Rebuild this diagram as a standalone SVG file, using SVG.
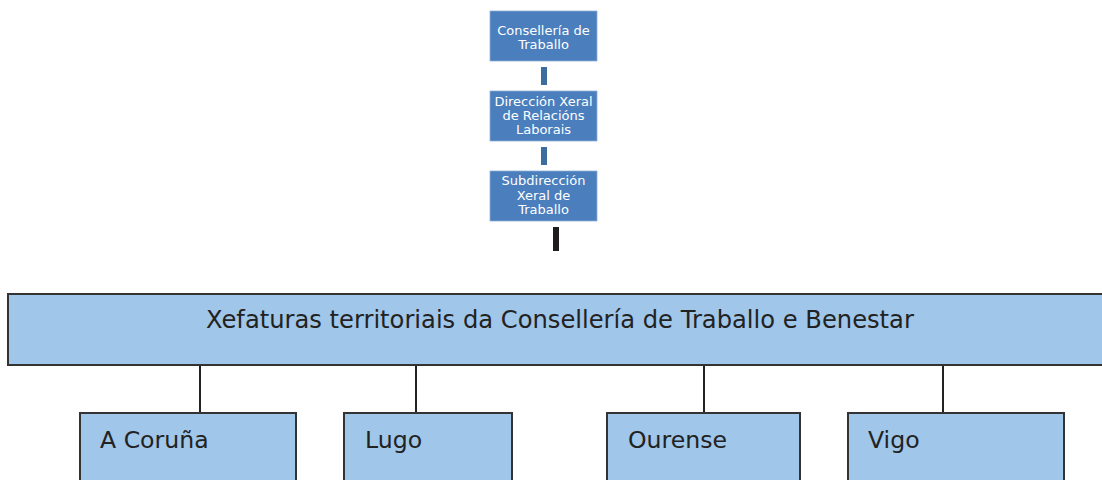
<svg xmlns="http://www.w3.org/2000/svg" width="1102" height="480" viewBox="0 0 1102 480">
<style>
.top{fill:#4a7ebd;stroke:#8fb0d8;stroke-width:0.8}
.tt{font-family:"DejaVu Sans",Verdana,sans-serif;font-size:13px;fill:#ffffff;text-anchor:middle}
.big{fill:#a0c6e9;stroke:#333333;stroke-width:2}
.bt{font-family:"DejaVu Sans",Verdana,sans-serif;fill:#222222}
.link{stroke:#222222;stroke-width:2;fill:none}
.bar{fill:#3d6c9f}
</style>
<rect width="1102" height="480" fill="#ffffff"/>
<g id="connectors">
<rect class="bar" x="541" y="67" width="6" height="18"/>
<rect class="bar" x="541" y="147" width="6" height="18"/>
<rect x="553" y="227" width="6" height="24" fill="#1e1c1c"/>
<line class="link" x1="200" y1="365" x2="200" y2="413"/>
<line class="link" x1="416" y1="365" x2="416" y2="413"/>
<line class="link" x1="704" y1="365" x2="704" y2="413"/>
<line class="link" x1="943" y1="365" x2="943" y2="413"/>
</g>
<g id="consellaria">
<rect class="top" x="490" y="11" width="107" height="50"/>
<text class="tt" x="543.5" y="34.5">Consellería de</text>
<text class="tt" x="543.5" y="48.5">Traballo</text>
</g>
<g id="direccion">
<rect class="top" x="490" y="91" width="107" height="50"/>
<text class="tt" x="543.5" y="105.5">Dirección Xeral</text>
<text class="tt" x="543.5" y="119.5">de Relacións</text>
<text class="tt" x="543.5" y="133.5">Laborais</text>
</g>
<g id="subdireccion">
<rect class="top" x="490" y="171" width="107" height="50"/>
<text class="tt" x="543.5" y="185">Subdirección</text>
<text class="tt" x="543.5" y="199.5">Xeral de</text>
<text class="tt" x="543.5" y="214">Traballo</text>
</g>
<g id="xefaturas">
<rect class="big" x="8" y="294" width="1110" height="71"/>
<text class="bt" x="206" y="327.5" font-size="24.2">Xefaturas territoriais da Consellería de Traballo e Benestar</text>
</g>
<g id="coruna">
<rect class="big" x="80" y="413" width="216" height="80"/>
<text class="bt" x="100" y="448" font-size="23.6">A Coruña</text>
</g>
<g id="lugo">
<rect class="big" x="344" y="413" width="168" height="80"/>
<text class="bt" x="365" y="448" font-size="23.6">Lugo</text>
</g>
<g id="ourense">
<rect class="big" x="607" y="413" width="193" height="80"/>
<text class="bt" x="628" y="448" font-size="23.6">Ourense</text>
</g>
<g id="vigo">
<rect class="big" x="848" y="413" width="216" height="80"/>
<text class="bt" x="868" y="448" font-size="23.6">Vigo</text>
</g>
</svg>
